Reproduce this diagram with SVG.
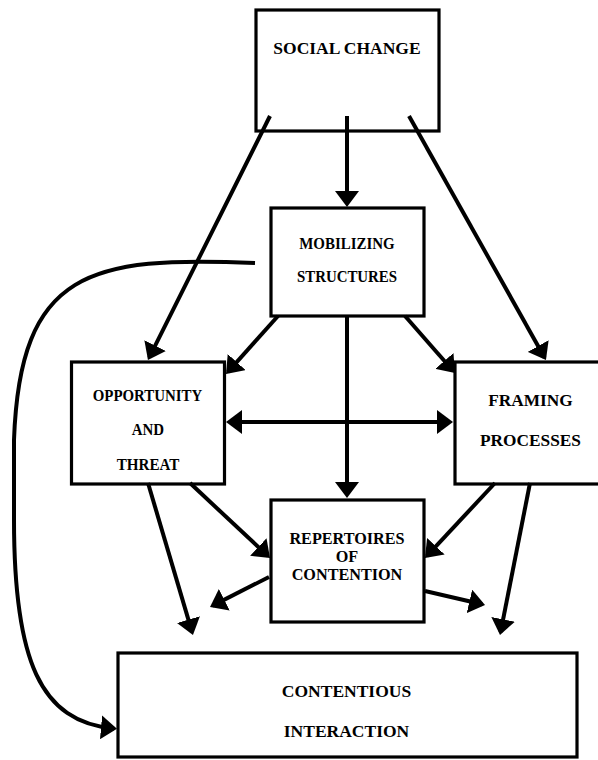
<svg xmlns="http://www.w3.org/2000/svg" width="598" height="760" viewBox="0 0 598 760">
<style>
.box{fill:#fff;stroke:#000;stroke-width:3.2}
.t{font-family:"Liberation Serif","Times New Roman","DejaVu Serif",serif;font-weight:bold;fill:#000;text-anchor:middle}
.c{fill:none;stroke:#000;stroke-width:4}
.a{marker-end:url(#ah)}
</style>
<defs>
<marker id="ah" markerUnits="userSpaceOnUse" markerWidth="16" markerHeight="24" viewBox="0 0 16 24" refX="13" refY="12" orient="auto-start-reverse">
<path d="M0,0 L16,12 L0,24 z" fill="#000"/>
</marker>
</defs>
<rect width="598" height="760" fill="#fff"/>
<g id="social-change">
<rect class="box" x="256" y="10" width="183" height="121"/>
<text class="t" x="347" y="54" font-size="17.5">SOCIAL CHANGE</text>
</g>
<g id="mobilizing-structures">
<rect class="box" x="271" y="208" width="153" height="108"/>
<text class="t" x="347" y="248.5" font-size="16" textLength="95.5" lengthAdjust="spacingAndGlyphs">MOBILIZING</text>
<text class="t" x="347" y="282" font-size="16" textLength="100" lengthAdjust="spacingAndGlyphs">STRUCTURES</text>
</g>
<g id="opportunity-threat">
<rect class="box" x="71.5" y="362" width="153" height="122"/>
<text class="t" x="147.5" y="401" font-size="16" textLength="109.5" lengthAdjust="spacingAndGlyphs">OPPORTUNITY</text>
<text class="t" x="148" y="435" font-size="16" textLength="32.3" lengthAdjust="spacingAndGlyphs">AND</text>
<text class="t" x="148" y="470" font-size="16" textLength="62.7" lengthAdjust="spacingAndGlyphs">THREAT</text>
</g>
<g id="framing-processes">
<rect class="box" x="455" y="362" width="160" height="122"/>
<text class="t" x="530.5" y="406" font-size="17.3">FRAMING</text>
<text class="t" x="530.5" y="446" font-size="17.3">PROCESSES</text>
</g>
<g id="repertoires-of-contention">
<rect class="box" x="271" y="500" width="153" height="122"/>
<text class="t" x="347" y="543.5" font-size="16.2">REPERTOIRES</text>
<text class="t" x="347" y="561.5" font-size="16.2">OF</text>
<text class="t" x="347" y="579.5" font-size="16.2">CONTENTION</text>
</g>
<g id="contentious-interaction">
<rect class="box" x="118" y="653" width="459" height="104"/>
<text class="t" x="346.5" y="697" font-size="17.5">CONTENTIOUS</text>
<text class="t" x="346.5" y="737" font-size="17.5">INTERACTION</text>
</g>
<g id="connectors">
<line class="c a" x1="347" y1="116" x2="347" y2="204"/>
<line class="c a" x1="270" y1="116" x2="149.3" y2="357.3"/>
<line class="c a" x1="409" y1="116" x2="544.5" y2="357.4"/>
<line class="c a" x1="278" y1="316" x2="228" y2="371.8"/>
<line class="c a" x1="405" y1="316" x2="453" y2="370.7"/>
<line class="c a" x1="347" y1="316" x2="347" y2="495"/>
<line class="c a" x1="229" y1="422" x2="450" y2="422" marker-start="url(#ah)"/>
<line class="c a" x1="190" y1="483" x2="267.8" y2="555.9"/>
<line class="c a" x1="148" y1="483" x2="192.1" y2="632.1"/>
<line class="c a" x1="495" y1="483" x2="427" y2="555.8"/>
<line class="c a" x1="530" y1="483" x2="500.6" y2="632.1"/>
<line class="c a" x1="269" y1="577" x2="212.7" y2="605.6"/>
<line class="c a" x1="425" y1="591" x2="482.1" y2="604.3"/>
<path class="c a" d="M255,263 C90,256 20,270 14,440 L14,520 C14,660 40,722 114,728.5"/>
</g>
</svg>
